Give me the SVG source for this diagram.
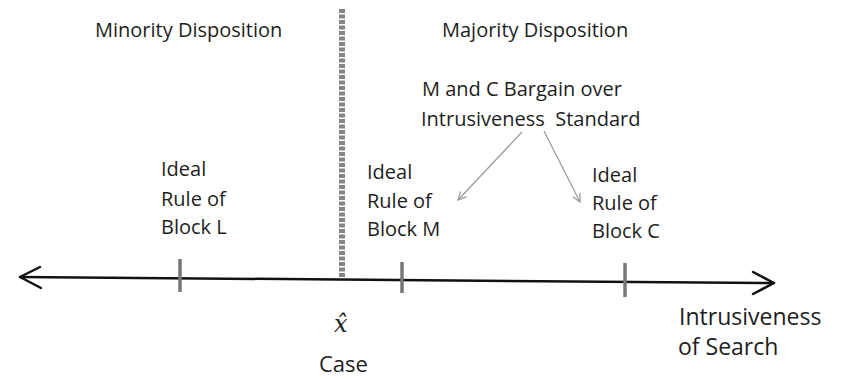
<svg xmlns="http://www.w3.org/2000/svg" width="842" height="379" viewBox="0 0 842 379">
<style>
text{font-family:"Open Sans","Noto Sans",sans-serif;fill:#1e1e1e;font-size:20px}
.tick{stroke:#777;stroke-width:3.5;fill:none}
.axis{stroke:#111;stroke-width:2.5;fill:none;stroke-linecap:round;stroke-linejoin:round}
.ptr{stroke:#999;stroke-width:1.2;fill:none}
</style>
<defs>
<marker id="open" viewBox="0 0 10 10" refX="9" refY="5" markerWidth="10" markerHeight="10" markerUnits="userSpaceOnUse" orient="auto">
<path d="M1,1 L9,5 L1,9" fill="none" stroke="#999" stroke-width="1.2"/>
</marker>
</defs>
<rect width="842" height="379" fill="#fff"/>
<g id="axis">
<path class="axis" d="M20,277 L774,283"/>
<path class="axis" d="M40,267 L20,277 L41,288"/>
<path class="axis" d="M753,272 L774,283 L753,294"/>
</g>
<g id="case-line">
<line x1="342" y1="9" x2="342" y2="278" stroke="#858585" stroke-width="6" stroke-dasharray="4 1.5"/>
</g>
<g id="tick-L"><line class="tick" x1="180" y1="259" x2="180" y2="292"/></g>
<g id="tick-M"><line class="tick" x1="402" y1="262" x2="402" y2="293"/></g>
<g id="tick-C"><line class="tick" x1="625" y1="263" x2="625" y2="297"/></g>
<g id="minority"><text x="95" y="37">Minority Disposition</text></g>
<g id="majority"><text x="442" y="37">Majority Disposition</text></g>
<g id="bargain">
<text x="422" y="96">M and C Bargain over</text>
<text x="421" y="126" xml:space="preserve">Intrusiveness  Standard</text>
</g>
<g id="block-L">
<text x="161" y="176">Ideal</text>
<text x="161" y="206">Rule of</text>
<text x="161" y="234">Block L</text>
</g>
<g id="block-M">
<text x="367" y="179">Ideal</text>
<text x="367" y="208">Rule of</text>
<text x="367" y="236">Block M</text>
</g>
<g id="block-C">
<text x="592" y="182">Ideal</text>
<text x="592" y="210">Rule of</text>
<text x="592" y="238">Block C</text>
</g>
<g id="connectors">
<line class="ptr" x1="522" y1="132" x2="458" y2="200" marker-end="url(#open)"/>
<line class="ptr" x1="544" y1="131" x2="580" y2="202" marker-end="url(#open)"/>
</g>
<g id="case">
<text x="334" y="332" style="font-family:'DejaVu Serif','Liberation Serif',serif;font-style:italic;font-size:24px">x̂</text>
<text x="319" y="372" style="font-size:22px">Case</text>
</g>
<g id="axis-label">
<text x="679" y="325" style="font-size:23px">Intrusiveness</text>
<text x="678" y="355" style="font-size:23px">of Search</text>
</g>
</svg>
